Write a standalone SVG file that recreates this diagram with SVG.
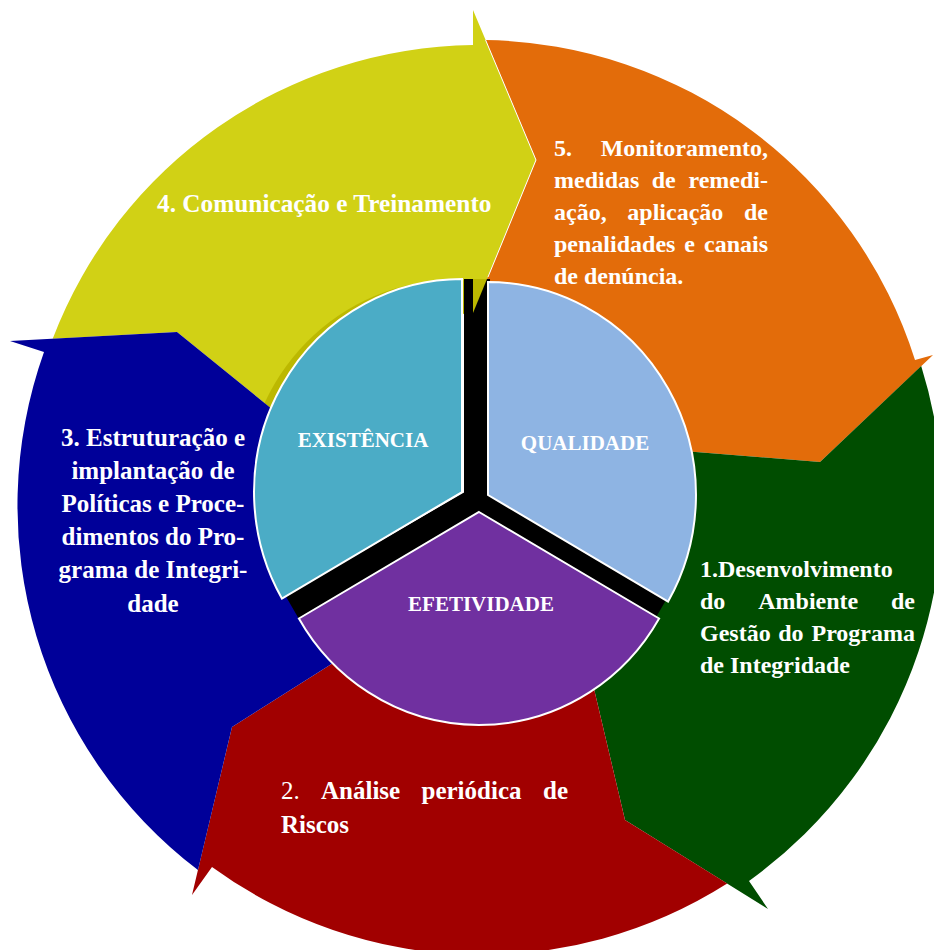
<svg xmlns="http://www.w3.org/2000/svg" width="934" height="950" viewBox="0 0 934 950">
<defs>
<style>
.t{font-family:"Liberation Serif","Times New Roman",serif;font-weight:bold;fill:#ffffff;font-size:24px}
.b{font-size:25px}
.y{font-size:25.3px}
.e{text-anchor:end}
.m{text-anchor:middle}
.n{font-weight:normal}
.c{font-family:"Liberation Serif","Times New Roman",serif;font-weight:bold;fill:#ffffff;font-size:21px;text-anchor:middle}
.sec{stroke:#ffffff;stroke-width:2}
</style>
<path id="yellowShape" d="M52.7 338.7 A456 456 0 0 1 473 45 L473 10 L536 160 L473 313 A185 185 0 0 0 306.5 437 L177 332 Z"/>
<clipPath id="clipY"><use href="#yellowShape"/></clipPath>
</defs>
<rect width="934" height="950" fill="#ffffff"/>

<g id="arrow4">
<use href="#yellowShape" fill="#D1D115"/>
<ellipse cx="454" cy="493" rx="209" ry="213" fill="#BCB800" clip-path="url(#clipY)"/>
</g>
<g id="arrow5">
<path d="M485.6 40 A458 458 0 0 1 915 360 L933 355 L820 462 L609 445 A170 170 0 0 0 473 313 L536 160 Z" fill="#E36C0A"/>
<polyline points="485.6,40 536,160 488,277" fill="none" stroke="#ffffff" stroke-width="1"/>
</g>
<g id="arrow1">
<path d="M921.2 366.1 A463 463 0 0 1 749 881 L768 909 L625 820 L580.7 632.6 A170 170 0 0 0 609 445 L820 462 Z" fill="#004D00"/>
</g>
<g id="arrow2">
<path d="M727.2 883.6 A458 458 0 0 1 212 867 L192 895 L232 727 L377.8 634.8 A170 170 0 0 0 580.7 632.6 L625 820 Z" fill="#A10000"/>
</g>
<g id="arrow3">
<path d="M198 870 A458 458 0 0 1 44 352 L10 341 L177 332 L306.5 437 A170 170 0 0 0 377.8 634.8 L232 727 Z" fill="#000099"/>
</g>

<g id="connectors"></g>

<g id="hub">
<path d="M477 500 L477 279 M477 500 L292 607 M477 500 L662 607" stroke="#000000" stroke-width="26" fill="none"/>
<circle cx="477" cy="500" r="13" fill="#000000"/>
<polygon points="473,279 487,279 473,313" fill="#BCB800"/>
</g>
<g id="existencia">
<path class="sec" d="M462 492 L462 279 A208 213 0 0 0 281.9 598.5 Z" fill="#4BACC6"/>
<text class="c" x="363" y="447">EXISTÊNCIA</text>
</g>
<g id="qualidade">
<path class="sec" d="M488 495 L488 282 A208 213 0 0 1 668.1 601.5 Z" fill="#8EB4E3"/>
<text class="c" x="585" y="450">QUALIDADE</text>
</g>
<g id="efetividade">
<path class="sec" d="M479 512 L659.1 618.5 A208 213 0 0 1 298.9 618.5 Z" fill="#7030A0"/>
<text class="c" x="481" y="611">EFETIVIDADE</text>
</g>

<g id="label4">
<text class="t y" x="157" y="212">4. Comunicação e Treinamento</text>
</g>
<g id="label5">
<text class="t" x="554" y="156">5.</text>
<text class="t e" x="768" y="156">Monitoramento,</text>
<text class="t" x="554" y="188">medidas</text>
<text class="t m" x="663.7" y="188">de</text>
<text class="t e" x="768" y="188">remedi-</text>
<text class="t" x="554" y="220">ação,</text>
<text class="t m" x="675.3" y="220">aplicação</text>
<text class="t e" x="768" y="220">de</text>
<text class="t" x="554" y="252">penalidades</text>
<text class="t m" x="689.7" y="252">e</text>
<text class="t e" x="768" y="252">canais</text>
<text class="t" x="554" y="284">de denúncia.</text>
</g>
<g id="label1">
<text class="t" x="700" y="577">1.Desenvolvimento</text>
<text class="t" x="700" y="609">do</text>
<text class="t m" x="808.2" y="609">Ambiente</text>
<text class="t e" x="915" y="609">de</text>
<text class="t" x="700" y="641">Gestão</text>
<text class="t" x="778.2" y="641">do</text>
<text class="t e" x="915" y="641">Programa</text>
<text class="t" x="700" y="673">de Integridade</text>
</g>
<g id="label2">
<text class="t b n" x="281" y="799">2.</text>
<text class="t b" x="321" y="799">Análise</text>
<text class="t b" x="421.5" y="799">periódica</text>
<text class="t b e" x="568" y="799">de</text>
<text class="t b" x="281" y="833">Riscos</text>
</g>
<g id="label3">
<text class="t b m" x="153" y="446">3. Estruturação e</text>
<text class="t b m" x="153" y="479">implantação de</text>
<text class="t b m" x="153" y="512">Políticas e Proce-</text>
<text class="t b m" x="153" y="545">dimentos do Pro-</text>
<text class="t b m" x="153" y="578">grama de Integri-</text>
<text class="t b m" x="153" y="612">dade</text>
</g>
</svg>
